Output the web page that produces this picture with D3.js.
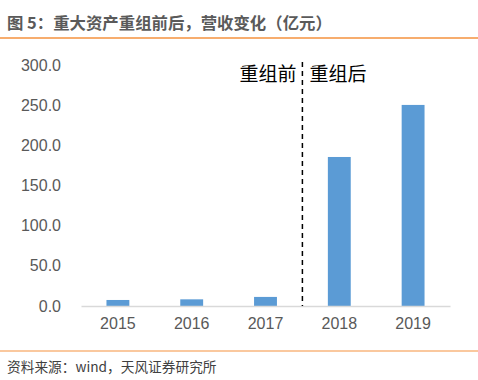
<!DOCTYPE html>
<html><head><meta charset="utf-8">
<script src="https://cdn.jsdelivr.net/npm/d3@7/dist/d3.min.js"></script>
<style>body{margin:0;background:#fff;}svg{display:block;}</style>
</head><body>
<svg id="c" width="478" height="380"></svg>
<script>
const categories = ["2015","2016","2017","2018","2019"];
const revenue = [7.5, 8.3, 11.3, 185.5, 250.3];
const yTicks = [0, 50, 100, 150, 200, 250, 300];
const phaseLabels = ["重组前", "重组后"];
const title = "图 5：重大资产重组前后，营收变化（亿元）";
const source = "资料来源：wind，天风证券研究所";

const svg = d3.select("#c");
const font = "'Liberation Sans', Arial, 'Noto Sans CJK SC', sans-serif";
const cjk = "'Noto Sans CJK SC', sans-serif";

svg.append("text").attr("x", 7).attr("y", 29).text(title)
  .attr("font-family", cjk).attr("font-size", 16.4).attr("font-weight", "bold").attr("fill", "#5a5a5a");
svg.append("line").attr("x1", 0).attr("x2", 478).attr("y1", 38).attr("y2", 38)
  .attr("stroke", "#f5923e").attr("stroke-width", 1.5);
svg.append("line").attr("x1", 0).attr("x2", 478).attr("y1", 351).attr("y2", 351)
  .attr("stroke", "#f5923e").attr("stroke-width", 1.2);
svg.append("text").attr("x", 7).attr("y", 372).text(source)
  .attr("font-family", cjk).attr("font-size", 13.7).attr("fill", "#404040");

const x = d3.scaleBand().domain(categories).range([81, 450]).paddingInner(0.69).paddingOuter(0.345);
const y = d3.scaleLinear().domain([0, 300]).range([306, 65]);

const yAxis = svg.append("g").attr("transform", "translate(61,0)")
  .call(d3.axisLeft(y).tickValues(yTicks).tickFormat(d3.format(".1f")).tickSize(0).tickPadding(0));
yAxis.select(".domain").remove();
yAxis.selectAll("text").attr("font-family", font).attr("font-size", 16).attr("fill", "#595959");

svg.append("g").selectAll("rect").data(categories).join("rect")
  .attr("x", d => x(d)).attr("width", x.bandwidth())
  .attr("y", (d, i) => y(revenue[i])).attr("height", (d, i) => y(0) - y(revenue[i]))
  .attr("fill", "#5b9bd5");

const xAxis = svg.append("g").attr("transform", "translate(0,306)")
  .call(d3.axisBottom(x).tickSize(0).tickPadding(12));
xAxis.select(".domain").attr("stroke", "#d9d9d9").attr("stroke-width", 1.5);
xAxis.selectAll("text").attr("font-family", font).attr("font-size", 16).attr("fill", "#595959");

const step = x.step();
const divX = x("2018") - (step - x.bandwidth()) / 2;
svg.append("line").attr("x1", divX).attr("x2", divX).attr("y1", 62).attr("y2", 306)
  .attr("stroke", "#000").attr("stroke-width", 1.5).attr("stroke-dasharray", "5,4");

svg.append("text").attr("x", divX - 6).attr("y", 81).attr("text-anchor", "end").text(phaseLabels[0])
  .attr("font-family", cjk).attr("font-size", 19).attr("fill", "#000");
svg.append("text").attr("x", divX + 7).attr("y", 81).attr("text-anchor", "start").text(phaseLabels[1])
  .attr("font-family", cjk).attr("font-size", 19).attr("fill", "#000");
</script>
</body></html>
